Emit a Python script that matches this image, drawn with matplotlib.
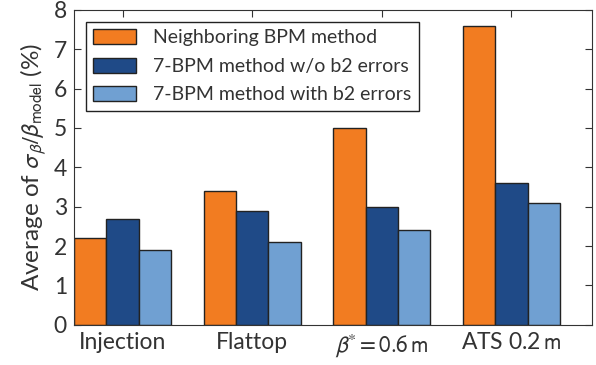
import numpy as np
import matplotlib
matplotlib.use("Agg")
import matplotlib.pyplot as plt

# ── data ───────────────────────────────────────────────────────────────────
CASES = ["Injection", "Flattop", r"$\beta^{*}=0.6\,\mathrm{m}$", r"ATS 0.2$\,\mathrm{m}$"]
SERIES = ["Neighboring BPM method",
          "7-BPM method w/o b2 errors",
          "7-BPM method with b2 errors"]
neighboring = [2.2, 3.4, 5.0, 7.6]
seven_no_b2 = [2.7, 2.9, 3.0, 3.6]
seven_b2    = [1.9, 2.1, 2.4, 3.1]

COLORS = ["#f27c21", "#1f4a87", "#70a0d2"]
TXT = "#333333"

plt.rcParams["font.family"] = ["Lato", "DejaVu Sans"]
plt.rcParams["mathtext.fontset"] = "stixsans"
plt.rcParams["text.color"] = TXT
plt.rcParams["xtick.color"] = TXT
plt.rcParams["ytick.color"] = TXT
plt.rcParams["axes.labelcolor"] = TXT

fig, ax = plt.subplots(figsize=(5.96, 3.65), dpi=100)
fig.subplots_adjust(left=0.124, right=0.994, top=0.973, bottom=0.11)

x = np.arange(len(CASES))
w = 0.25
for i, (vals, lab, c) in enumerate(zip([neighboring, seven_no_b2, seven_b2], SERIES, COLORS)):
    ax.bar(x + (i - 1) * w, vals, w, color=c, edgecolor="#222222",
           linewidth=1.0, label=lab, zorder=2)

ax.set_xlim(-0.375, 3.625)
ax.set_ylim(0, 8)
ax.set_xticks(x)
ax.set_xticklabels(CASES, fontsize=16.5)
ax.set_yticks(range(0, 9))
ax.tick_params(axis="y", labelsize=16.5)
ax.tick_params(direction="in", top=True, right=True, length=5, width=0.8,
               color="#333333", pad=5)
for s in ax.spines.values():
    s.set_color("#333333")
ax.set_ylabel(r"Average of $\sigma_{\beta}/\beta_{\mathrm{model}}$ (%)", fontsize=17.5,
              labelpad=4)

leg = ax.legend(loc="upper left", fontsize=14, frameon=True, fancybox=False,
                edgecolor="#222222", framealpha=1, borderaxespad=0.6,
                handlelength=2.2, handleheight=0.8, labelspacing=0.58,
                borderpad=0.4, handletextpad=0.85)
leg.get_frame().set_linewidth(1.0)

plt.savefig("out.png", dpi=100)
plt.close()
